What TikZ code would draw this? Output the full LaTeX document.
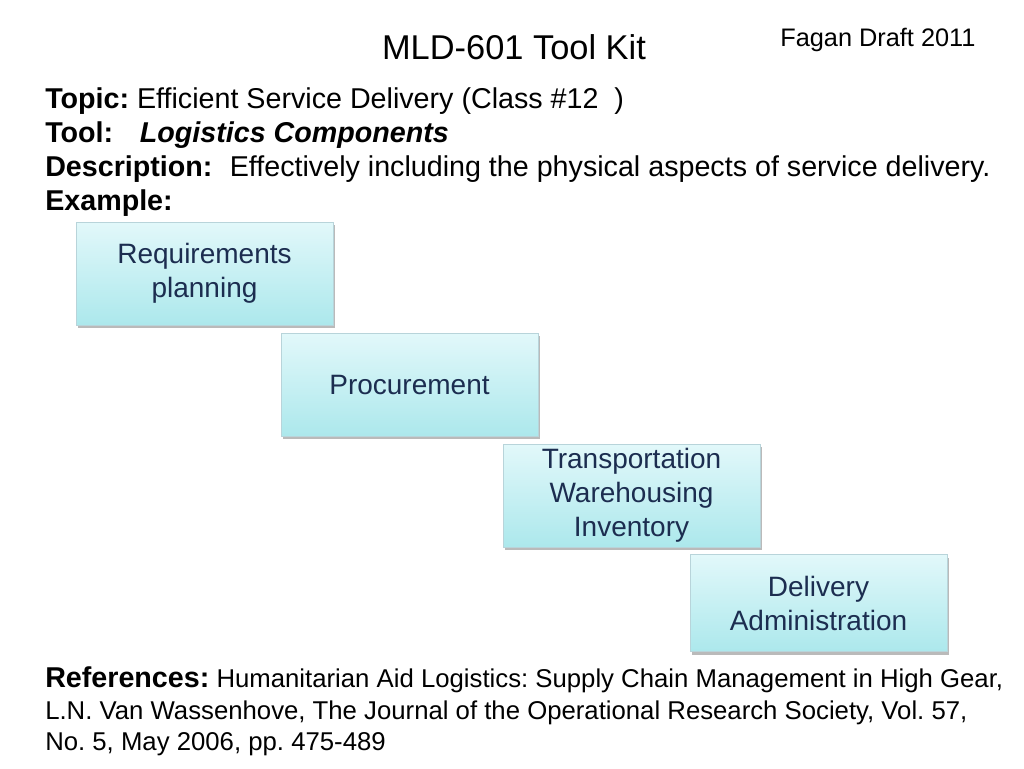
\documentclass[tikz,border=0pt]{standalone}
\usepackage{fontspec}
\setmainfont{Liberation Sans}
\usetikzlibrary{shadows}
\frenchspacing

\definecolor{boxtop}{HTML}{E2F8FA}
\definecolor{boxbot}{HTML}{ACE8EC}
\definecolor{boxline}{HTML}{B8D4DA}
\definecolor{boxtext}{HTML}{1C2D50}

\tikzset{
  stagebox/.style={rectangle, draw=boxline, line width=0.5pt,
    top color=boxtop, bottom color=boxbot,
    minimum width=192.75pt, minimum height=77.25pt,
    align=center, text=boxtext, font=\fontsize{21}{25.5}\selectfont,
    drop shadow={shadow xshift=1.5pt, shadow yshift=-2.5pt, fill=black!45, opacity=0.6}},
  bodyline/.style={anchor=base west, inner sep=0pt, font=\fontsize{21.5}{25}\selectfont},
  refline/.style={anchor=base west, inner sep=0pt, font=\fontsize{19.3}{23}\selectfont}
}

\begin{document}
\begin{tikzpicture}[x=0.75pt, y=-0.75pt]
  \useasboundingbox (0,0) rectangle (1024,768);

  \node[anchor=base, inner sep=0pt, font=\fontsize{25.8}{30}\selectfont] (title) at (514,59) {MLD-601 Tool Kit};
  \node[anchor=base west, inner sep=0pt, font=\fontsize{19}{22}\selectfont] (draft) at (780,46) {Fagan Draft 2011};

  \node[bodyline] (topic) at (45,108) {\textbf{Topic:} Efficient Service Delivery (Class \#12~~)};
  \node[bodyline] (tool) at (45,142) {\textbf{Tool:}\hspace{20pt}\textbf{\textit{Logistics Components}}};
  \node[bodyline] (descr) at (45,176) {\textbf{Description:}\hspace{13pt}Effectively including the physical aspects of service delivery.};
  \node[bodyline] (example) at (45,210) {\textbf{Example:}};

  \node[stagebox] (req) at (204.5,273.5) {Requirements\\planning};
  \node[stagebox] (proc) at (409.5,384.5) {Procurement};
  \node[stagebox] (trans) at (631.5,495.5) {Transportation\\Warehousing\\Inventory};
  \node[stagebox, minimum height=72.75pt] (deliv) at (818.5,603) {Delivery\\Administration};

  \node[refline] (ref1) at (45,687) {{\fontsize{21.5}{25}\selectfont\textbf{References:}} Humanitarian Aid Logistics: Supply Chain Management in High Gear,};
  \node[refline] (ref2) at (45,719) {L.N. Van Wassenhove, The Journal of the Operational Research Society, Vol. 57,};
  \node[refline] (ref3) at (45,750) {No. 5, May 2006, pp. 475-489};
\end{tikzpicture}
\end{document}
